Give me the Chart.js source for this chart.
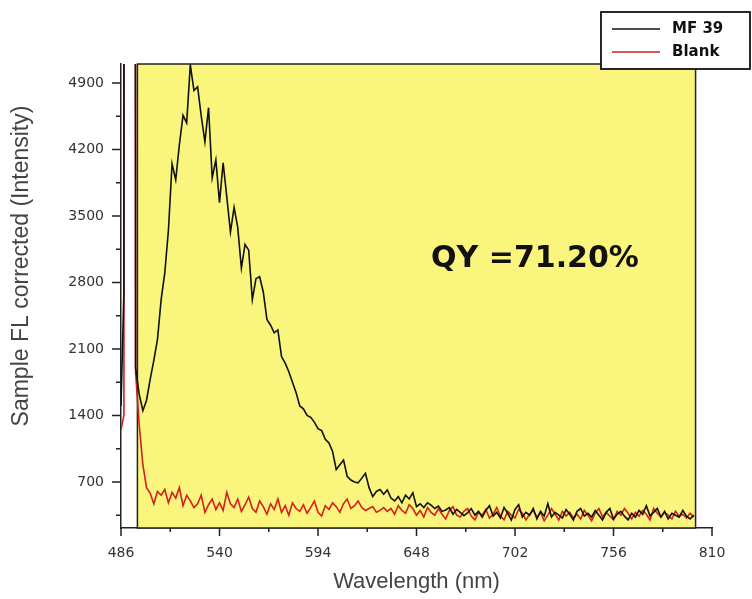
<!DOCTYPE html>
<html>
<head>
<meta charset="utf-8">
<script src="https://cdn.jsdelivr.net/npm/chart.js@4"></script>
<style>
  html, body { margin: 0; padding: 0; background: #fff; }
  #wrap { width: 752px; height: 599px; }
</style>
</head>
<body>
<div id="wrap"><canvas id="qy-chart" width="752" height="599"></canvas></div>
<script>
// 波长 (nm)
const wavelengths = [
  486,487.6,488,490,492,493,494,496,498,500,502,504,
  506,508,510,512,514,516,518,520,522,524,
  526,528,530,532,534,536,538,540,542,544,
  546,548,550,552,554,556,558,560,562,564,
  566,568,570,572,574,576,578,580,582,584,
  586,588,590,592,594,596,598,600,602,604,
  606,608,610,612,614,616,618,620,622,624,
  626,628,630,632,634,636,638,640,642,644,
  646,648,650,652,654,656,658,660,662,664,
  666,668,670,672,674,676,678,680,682,684,
  686,688,690,692,694,696,698,700,702,704,
  706,708,710,712,714,716,718,720,722,724,
  726,728,730,732,734,736,738,740,742,744,
  746,748,750,752,754,756,758,760,762,764,
  766,768,770,772,774,776,778,780,782,784,
  786,788,790,792,794,796,798,800
];

// MF 39 荧光强度
const mf39 = [
  1500,2700,40000,40000,40000,40000,1900,1620,1450,1560,1780,1980,
  2200,2620,2900,3350,4050,3880,4250,4560,4480,5090,
  4820,4860,4550,4280,4640,3900,4090,3640,4060,3700,
  3330,3590,3380,2950,3200,3140,2620,2840,2860,2700,
  2410,2350,2270,2300,2020,1950,1860,1750,1640,1500,
  1470,1400,1380,1330,1260,1240,1150,1110,1020,830,
  880,930,760,720,700,690,740,790,640,545,
  600,620,570,615,530,500,545,480,560,520,
  585,440,470,430,480,455,420,445,390,405,
  430,360,410,380,345,375,420,350,390,330,
  400,450,340,380,320,430,370,300,410,460,
  330,380,350,420,310,390,340,470,330,380,
  350,320,410,360,300,390,420,340,370,330,
  400,350,300,380,420,310,360,390,340,300,
  370,330,400,360,450,340,380,420,330,390,
  310,370,350,330,400,340,310,350
];

// 空白 (Blank)
const blank = [
  1250,1400,40000,40000,40000,40000,1850,1300,880,640,580,470,
  600,560,620,480,590,530,640,450,560,500,
  430,470,560,380,460,520,410,480,400,590,
  470,430,520,390,460,540,420,380,500,440,
  360,470,410,520,380,450,350,480,420,390,
  460,370,430,500,380,340,450,410,480,440,
  380,470,520,420,450,500,430,400,420,440,
  380,400,430,390,420,360,450,400,370,460,
  420,350,400,330,430,380,350,420,360,310,
  400,440,350,330,390,420,340,300,380,350,
  410,320,360,430,340,300,390,350,320,410,
  370,300,360,400,330,380,290,350,420,360,
  300,390,340,380,320,360,310,400,350,290,
  370,420,330,380,340,300,390,350,420,370,
  310,380,340,400,360,300,420,370,330,380,
  350,310,390,340,360,320,370,330
];

const seriesNames = ['MF 39', 'Blank'];
const yTicks = [700, 1400, 2100, 2800, 3500, 4200, 4900];
const qyLabel = 'QY =71.20%';

const BLACK = '#111111';
const RED = '#d61f1f';

const toPoints = (vals) => wavelengths.map((w, i) => ({ x: w, y: vals[i] }));

// 黄色框、刻度、图例、标注
const decorations = {
  id: 'decorations',
  beforeDatasetsDraw(chart) {
    const { ctx, chartArea: a, scales: { x } } = chart;
    const l = x.getPixelForValue(495);
    const r = x.getPixelForValue(801);
    ctx.save();
    ctx.fillStyle = '#faf57d';
    ctx.fillRect(l, a.top, r - l, a.bottom - a.top);
    ctx.strokeStyle = '#222';
    ctx.lineWidth = 1.5;
    ctx.strokeRect(l, a.top, r - l, a.bottom - a.top);
    ctx.restore();
  },
  afterDatasetsDraw(chart) {
    const { ctx, scales: { x, y } } = chart;
    ctx.save();
    ctx.fillStyle = '#111';
    ctx.font = 'bold 30px "DejaVu Sans"';
    ctx.textBaseline = 'alphabetic';
    ctx.fillText(qyLabel, x.getPixelForValue(656), y.getPixelForValue(2960));
    ctx.restore();
  },
  afterDraw(chart) {
    const { ctx, chartArea: a, scales: { x, y } } = chart;
    ctx.save();
    ctx.strokeStyle = '#222';
    ctx.lineWidth = 1.5;
    ctx.beginPath();
    for (let v = 486; v <= 810; v += 27) {
      const px = x.getPixelForValue(v);
      const len = (v - 486) % 54 === 0 ? 8 : 4;
      ctx.moveTo(px, a.bottom);
      ctx.lineTo(px, a.bottom + len);
    }
    for (let v = 350; v <= 4900; v += 350) {
      const py = y.getPixelForValue(v);
      const len = v % 700 === 0 ? 9 : 5;
      ctx.moveTo(a.left, py);
      ctx.lineTo(a.left - len, py);
    }
    ctx.stroke();

    // y 轴标题
    ctx.save();
    ctx.translate(22, 266);
    ctx.rotate(-Math.PI / 2);
    ctx.fillStyle = '#444';
    ctx.font = '23px "Liberation Sans"';
    ctx.textAlign = 'center';
    ctx.textBaseline = 'middle';
    ctx.fillText('Sample FL corrected (Intensity)', 0, 0);
    ctx.restore();

    // 图例
    ctx.fillStyle = '#fff';
    ctx.fillRect(601, 12, 149, 57);
    ctx.strokeStyle = '#111';
    ctx.lineWidth = 1.8;
    ctx.strokeRect(601, 12, 149, 57);
    const rows = [[BLACK, 29], [RED, 52]];
    ctx.font = 'bold 15px "DejaVu Sans"';
    ctx.textBaseline = 'middle';
    rows.forEach(([c, yy], i) => {
      ctx.strokeStyle = c;
      ctx.lineWidth = 1.5;
      ctx.beginPath();
      ctx.moveTo(612, yy);
      ctx.lineTo(660, yy);
      ctx.stroke();
      ctx.fillStyle = '#111';
      ctx.fillText(seriesNames[i], 672, yy);
    });
    ctx.restore();
  }
};

const tickFont = { family: 'DejaVu Sans', size: 14 };

new Chart(document.getElementById('qy-chart'), {
  type: 'line',
  data: {
    datasets: [
      {
        label: seriesNames[0],
        data: toPoints(mf39),
        borderColor: BLACK,
        borderWidth: 1.6,
        pointRadius: 0,
        tension: 0
      },
      {
        label: seriesNames[1],
        data: toPoints(blank),
        borderColor: RED,
        borderWidth: 1.6,
        pointRadius: 0,
        tension: 0
      }
    ]
  },
  options: {
    responsive: false,
    animation: false,
    layout: { padding: { top: 64, right: 40, bottom: 0, left: 0 } },
    plugins: {
      legend: { display: false },
      tooltip: { enabled: false }
    },
    scales: {
      x: {
        type: 'linear',
        min: 486,
        max: 810,
        afterFit: (s) => { s.height = 71; },
        ticks: { stepSize: 54, color: '#333', font: tickFont, padding: 9, maxRotation: 0, callback: (v) => String(v) },
        grid: { display: false, drawTicks: true, tickLength: 8 },
        border: { display: true, color: '#222', width: 1.5 },
        title: {
          display: true,
          text: 'Wavelength (nm)',
          color: '#444',
          font: { family: 'Liberation Sans', size: 22 },
          padding: { top: 0, bottom: 4 }
        }
      },
      y: {
        min: 215,
        max: 5100,
        afterFit: (s) => { s.width = 121; },
        afterBuildTicks: (s) => { s.ticks = yTicks.map(v => ({ value: v })); },
        ticks: { color: '#333', font: tickFont, padding: 8, callback: (v) => String(v) },
        grid: { display: false, drawTicks: true, tickLength: 9 },
        border: { display: true, color: '#222', width: 1.5 }
      }
    }
  },
  plugins: [decorations]
});
</script>
</body>
</html>
